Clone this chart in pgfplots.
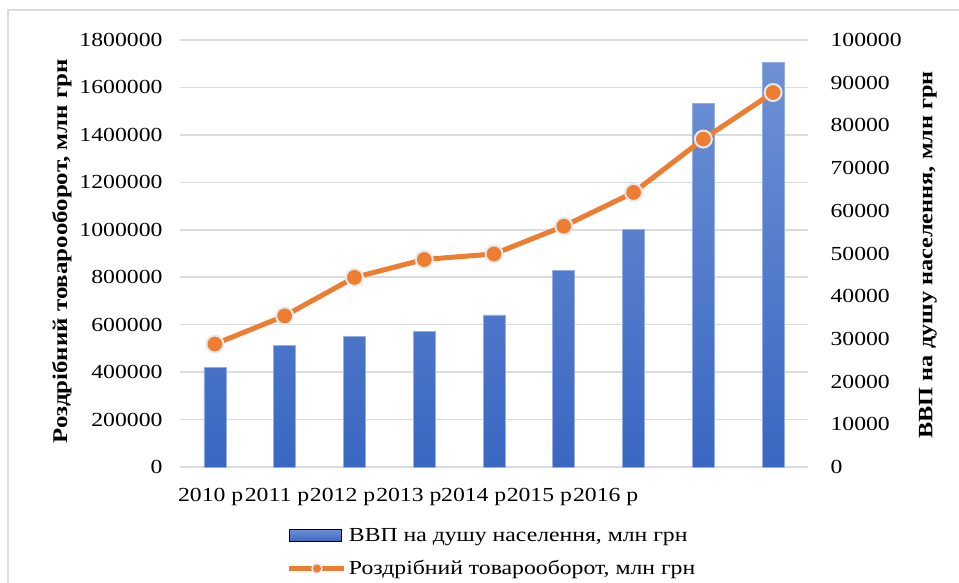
\documentclass[border=0pt]{standalone}
\usepackage{fontspec}
\setmainfont{Liberation Serif}[FakeStretch=1.19]
\usepackage{pgfplots}
\pgfplotsset{compat=1.18}

\definecolor{bartop}{RGB}{110,145,213}
\definecolor{barbot}{RGB}{58,103,194}
\definecolor{baredge}{RGB}{150,175,225}
\definecolor{lineorange}{RGB}{237,125,49}
\definecolor{markedge}{RGB}{232,232,232}
\definecolor{gridgray}{RGB}{217,220,224}

\pgfplotsset{
  common/.style={
    at={(180bp,-467bp)}, anchor=south west,
    scale only axis, width=628bp, height=427bp,
    xmin=-0.5, xmax=8.5, ymin=0,
    axis line style={draw=none}, tick style={draw=none},
    scaled y ticks=false,
    /pgf/number format/assume math mode=true,
    /pgf/number format/.cd, fixed, 1000 sep={},
  },
}

\begin{document}
\begin{tikzpicture}[x=1bp,y=1bp]
\useasboundingbox (0,0) rectangle (959,-583);
\draw[gridgray, line width=1.5bp] (8,-583) -- (8,-10) -- (959,-10);

\begin{axis}[common,
  ymax=1800000, ytick={0,200000,...,1800000},
  ymajorgrids, grid style={gridgray, line width=1.5bp},
  xtick={-0.06,0.89,1.83,2.78,3.71,4.65,5.60},
  xticklabels={2010 р,2011 р,2012 р,2013 р,2014 р,2015 р,2016 р},
  tick label style={font=\fontsize{20}{24}\selectfont},
  xticklabel style={yshift=-18bp},
  yticklabel style={xshift=-14bp},
  ylabel={\bfseries Роздрібний товарооборот, млн грн},
  ylabel style={font=\fontsize{21}{25}\selectfont, at={(axis description cs:-0.188,0.505)}, anchor=center},
]
\addplot[ybar, bar shift=0pt, bar width=22bp, draw=baredge, line width=0.6bp,
  top color=bartop, bottom color=barbot] coordinates {
  (0,420000) (1,511000) (2,549000) (3,570000) (4,641000)
  (5,830000) (6,1002000) (7,1533000) (8,1704000)};
\end{axis}

\begin{axis}[common,
  ymax=100000, ytick={0,10000,...,100000},
  axis y line*=right, axis x line=none,
  tick label style={font=\fontsize{20}{24}\selectfont},
  yticklabel style={xshift=19bp, anchor=west},
  ylabel={\bfseries ВВП на душу населення, млн грн},
  ylabel style={font=\fontsize{20.5}{25}\selectfont, at={(axis description cs:1.191,0.497)}, anchor=center},
  legend style={at={(0.170,-0.138)}, anchor=north west, draw=none, fill=none,
    inner sep=0pt, row sep=14bp, font=\fontsize{20}{24}\selectfont,
    nodes={inner sep=2bp}},
  legend cell align=left,
]
\addlegendimage{legend image code/.code={\fill[top color=bartop, bottom color=barbot] (0bp,-6bp) rectangle (52bp,6bp);}}
\addlegendentry{ВВП на душу населення, млн грн}
\addplot[lineorange, line width=5bp, mark=*, mark size=8.5bp,
  mark options={fill=lineorange, draw=markedge, line width=2bp},
  legend image code/.code={
    \draw[lineorange, line width=5bp] (0bp,0bp) -- (55bp,0bp);
    \fill[lineorange, draw=markedge, line width=1.5bp] (27.5bp,0bp) circle (5bp);}]
  coordinates {
  (0,28800) (1,35400) (2,44400) (3,48600) (4,49900)
  (5,56400) (6,64300) (7,76800) (8,87700)};
\addlegendentry{Роздрібний товарооборот, млн грн}
\end{axis}
\end{tikzpicture}
\end{document}
